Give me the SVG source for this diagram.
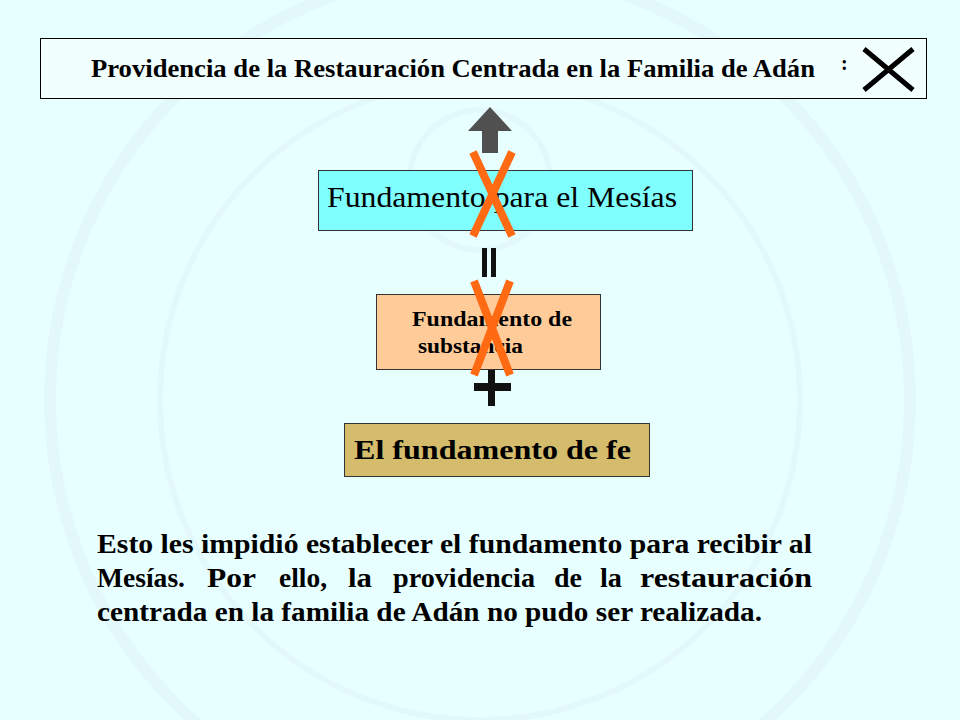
<svg xmlns="http://www.w3.org/2000/svg" width="960" height="720" viewBox="0 0 960 720">
<defs>
<style>
.serif{font-family:"Liberation Serif","Times New Roman",serif;fill:#000}
.b{font-weight:bold}
.box{stroke:#333;stroke-width:1}
.cross{stroke:#FF6A13;stroke-width:8;stroke-linecap:butt}
</style>
</defs>
<rect width="960" height="720" fill="#E8FFFF"/>
<g id="watermark" fill="none" stroke="#E2F8FA" stroke-width="12">
<circle cx="480" cy="400" r="430"/>
<circle cx="480" cy="400" r="320" stroke-width="6"/>
<circle cx="480" cy="180" r="70" stroke-width="6"/>
</g>
<g id="title">
<rect x="40.5" y="38.5" width="886" height="60" fill="#F2FFFF" stroke="#000" stroke-width="1"/>
<text class="serif b" x="91" y="77" font-size="26" textLength="724" lengthAdjust="spacingAndGlyphs">Providencia de la Restauración Centrada en la Familia de Adán</text>
<text class="serif b" x="841" y="70" font-size="20">:</text>
<path d="M864 49 L913 90 M913 49 L864 90" stroke="#000" stroke-width="5" fill="none"/>
</g>
<g id="node-mesias">
<rect class="box" x="318.5" y="170.5" width="374" height="60" fill="#80FFFF"/>
<text class="serif" x="327" y="207" font-size="30" textLength="350" lengthAdjust="spacingAndGlyphs">Fundamento para el Mesías</text>
</g>
<g id="node-substancia">
<rect class="box" x="376.5" y="294.5" width="224" height="75" fill="#FFCC99"/>
<text class="serif b" x="412" y="326" font-size="20" textLength="160" lengthAdjust="spacingAndGlyphs">Fundamento de</text>
<text class="serif b" x="418" y="353" font-size="20" textLength="105" lengthAdjust="spacingAndGlyphs">substancia</text>
</g>
<g id="node-fe">
<rect class="box" x="344.5" y="423.5" width="305" height="53" fill="#D4BC6C"/>
<text class="serif b" x="354" y="459" font-size="28" textLength="277" lengthAdjust="spacingAndGlyphs">El fundamento de fe</text>
</g>
<g id="connectors">
<polygon points="490,107 512,131 498,131 498,153 482,153 482,131 468,131" fill="#505050"/>
<rect x="482" y="248" width="5" height="29" fill="#111"/>
<rect x="491" y="248" width="5" height="29" fill="#111"/>
<rect x="488" y="370" width="7" height="36" fill="#111"/>
<rect x="474" y="383" width="37" height="8" fill="#111"/>
</g>
<g id="crosses">
<path class="cross" d="M473 152 L512 236 M512 152 L473 236"/>
<path class="cross" d="M474 281 L510 375 M510 281 L474 375"/>
</g>
<g id="paragraph" class="serif b" font-size="28">
<text x="97" y="553" textLength="715" lengthAdjust="spacingAndGlyphs">Esto les impidió establecer el fundamento para recibir al</text>
<text y="587"><tspan x="97" textLength="88" lengthAdjust="spacingAndGlyphs">Mesías.</tspan><tspan x="207" textLength="49" lengthAdjust="spacingAndGlyphs">Por</tspan><tspan x="279" textLength="48" lengthAdjust="spacingAndGlyphs">ello,</tspan><tspan x="348" textLength="24" lengthAdjust="spacingAndGlyphs">la</tspan><tspan x="393" textLength="142" lengthAdjust="spacingAndGlyphs">providencia</tspan><tspan x="554" textLength="28" lengthAdjust="spacingAndGlyphs">de</tspan><tspan x="600" textLength="22" lengthAdjust="spacingAndGlyphs">la</tspan><tspan x="640" textLength="172" lengthAdjust="spacingAndGlyphs">restauración</tspan></text>
<text x="97" y="621" textLength="665" lengthAdjust="spacingAndGlyphs">centrada en la familia de Adán no pudo ser realizada.</text>
</g>
</svg>
